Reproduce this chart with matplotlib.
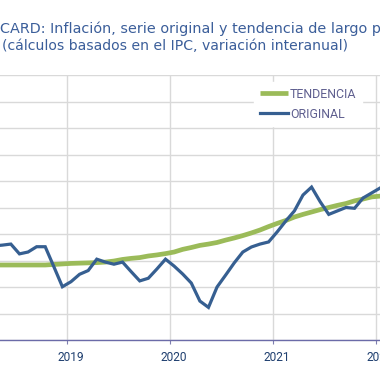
"""Inflación: serie original y tendencia de largo plazo (recorte)."""

import matplotlib
matplotlib.use("Agg")
import matplotlib.pyplot as plt
from matplotlib.transforms import ScaledTranslation

# monthly data, Apr 2018 .. Dec 2021 (variación interanual, %)
start_year, start_month = 2018, 4
original = [
    1.55, 1.58, 1.62, 1.25, 1.32, 1.52, 1.52, 0.77, 0.01,
    0.20, 0.48, 0.62, 1.05, 0.94, 0.86, 0.94, 0.58, 0.23, 0.33, 0.68, 1.05,
    0.79, 0.49, 0.15, -0.53, -0.77, 0.00, 0.45, 0.91, 1.32, 1.51, 1.62, 1.70,
    2.08, 2.49, 2.87, 3.47, 3.77, 3.22, 2.74, 2.87, 3.00, 2.97, 3.36, 3.55,
    3.74,
]
tendencia = [
    0.83, 0.83, 0.83, 0.83, 0.83, 0.83, 0.83, 0.85, 0.87,
    0.89, 0.90, 0.91, 0.92, 0.94, 0.98, 1.04, 1.08, 1.11, 1.17, 1.21, 1.26,
    1.32, 1.42, 1.49, 1.57, 1.62, 1.68, 1.77, 1.85, 1.94, 2.04, 2.15, 2.28,
    2.40, 2.51, 2.64, 2.74, 2.83, 2.92, 3.00, 3.08, 3.15, 3.25, 3.32, 3.40,
    3.43,
]
years = [2019, 2020, 2021, 2022]
title_lines = [
    "CARD: Inflación, serie original y tendencia de largo plazo",
    "(cálculos basados en el IPC, variación interanual)",
]

# x position of each month: middle of the month in decimal years
x = []
for i in range(len(original)):
    m = start_month - 1 + i
    x.append(start_year + m // 12 + (m % 12 + 0.5) / 12)

W, H = 380, 379
fig = plt.figure(figsize=(W / 100, H / 100), dpi=100)
# plot area is wider than the picture (the original chart is cropped)
ax = fig.add_axes([-10 / W, 1 - 340 / H, 400 / W, 265 / H])

ax.plot(x, tendencia, color="#9BBB59", lw=3.4, solid_capstyle="butt", label="TENDENCIA", zorder=3)
ax.plot(x, original, color="#365F91", lw=2.3, solid_joinstyle="miter", label="ORIGINAL", zorder=4)

ax.set_xlim(2019 + (-10 - 66.7) / 103.1, 2019 + (390 - 66.7) / 103.1)
ax.set_ylim(-2, 8)
ax.set_yticks(range(-2, 9))
ax.set_yticklabels([])
ax.tick_params(axis="y", length=0)
ax.set_xticks(years)
ax.set_xticklabels([str(y) for y in years])
ax.tick_params(axis="x", length=3, width=0.8, color="#7F7FB0", pad=5,
               labelsize=8.6, labelcolor="#1F3F6F")
for lab in ax.get_xticklabels():
    lab.set_fontfamily("Roboto")
    lab.set_transform(lab.get_transform() + ScaledTranslation(4 / 100, 0, fig.dpi_scale_trans))

ax.grid(True, color="#D9D9D9", lw=1.0)
ax.set_axisbelow(True)
for s in ("left", "right", "top"):
    ax.spines[s].set_visible(False)
ax.spines["bottom"].set_color("#6B6BA8")
ax.spines["bottom"].set_linewidth(1.0)
ax.spines["bottom"].set_zorder(5)

h, l = ax.get_legend_handles_labels()
leg = ax.legend(h, l, loc="upper left", bbox_to_anchor=(254 / W, 1 - 82 / H),
                bbox_transform=fig.transFigure, frameon=True, fancybox=False,
                framealpha=1, edgecolor="white", borderpad=0.45, handlelength=2.3,
                handletextpad=0.15, labelspacing=0.58, borderaxespad=0,
                prop={"family": "Roboto", "size": 8.9})
for t in leg.get_texts():
    t.set_color("#5F5F8F")
leg.set_zorder(6)

fig.text(0 / W, 1 - 33 / H, title_lines[0], color="#3B5E9A", fontsize=10.4,
         family="DejaVu Sans", va="baseline", ha="left")
fig.text(2 / W, 1 - 50 / H, title_lines[1], color="#3B5E9A", fontsize=10.1,
         family="DejaVu Sans", va="baseline", ha="left")

fig.savefig("out.png", dpi=100)
